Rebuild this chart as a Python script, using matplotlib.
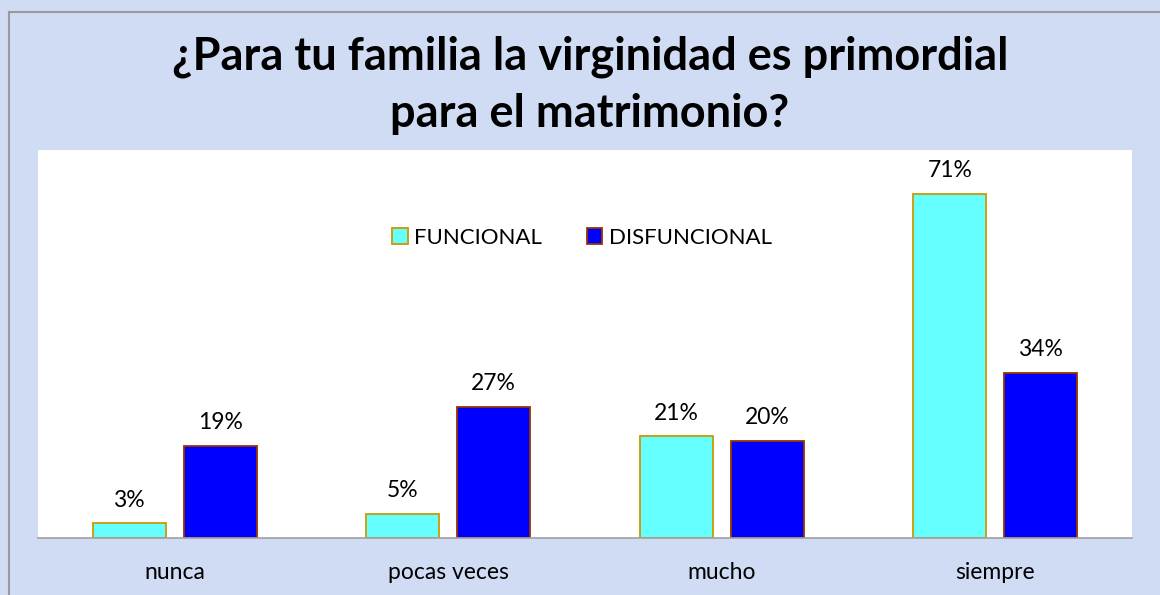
import matplotlib
matplotlib.use("Agg")
import matplotlib.pyplot as plt
import numpy as np

categories = ["nunca", "pocas veces", "mucho", "siempre"]
funcional = [3, 5, 21, 71]
disfuncional = [19, 27, 20, 34]
series_names = ["FUNCIONAL", "DISFUNCIONAL"]
title = "¿Para tu familia la virginidad es primordial\npara el matrimonio?"

plt.rcParams['font.family'] = ['Lato', 'DejaVu Sans']

W, H = 1160, 595
fig = plt.figure(figsize=(W / 100, H / 100), dpi=100)
fig.patch.set_facecolor("#CFDCF4")

# border line (top and left)
fig.add_artist(plt.Line2D([8.5 / W, 8.5 / W], [0, 1 - 11.5 / H], transform=fig.transFigure,
                          color="#9A9A9A", lw=1.5))
fig.add_artist(plt.Line2D([8.5 / W, 1], [1 - 11.5 / H, 1 - 11.5 / H], transform=fig.transFigure,
                          color="#9A9A9A", lw=1.5))

left, right, top, bottom = 38, 1132, 150, 538
ax = fig.add_axes([left / W, 1 - bottom / H, (right - left) / W, (bottom - top) / H])
ax.set_facecolor("white")

x = np.arange(len(categories))
bw = 0.267
gap = 0.066
off = (bw + gap) / 2
b1 = ax.bar(x - off, funcional, bw, color="#66FFFF", edgecolor="#CC9900", lw=1.3,
            label=series_names[0])
b2 = ax.bar(x + off, disfuncional, bw, color="#0000FF", edgecolor="#993300", lw=1.3,
            label=series_names[1])

for bars, vals in ((b1, funcional), (b2, disfuncional)):
    for b, v in zip(bars, vals):
        ax.text(b.get_x() + b.get_width() / 2, v + 2.6, f"{v}%", ha="center", va="bottom",
                fontsize=16.5, color="black")

ax.set_xlim(-0.5, len(categories) - 0.5)
ax.set_ylim(0, 80)
ax.set_yticks([])
ax.set_xticks(x)
ax.set_xticklabels(categories, fontsize=16.5)
ax.tick_params(axis="x", length=0, pad=17)
for s in ("top", "right", "left"):
    ax.spines[s].set_visible(False)
ax.spines["bottom"].set_color("#A0A0A0")
ax.spines["bottom"].set_linewidth(1.2)

leg = ax.legend(loc="center", bbox_to_anchor=((582 - left) / (right - left), (bottom - 238) / (bottom - top)),
                ncol=2, frameon=False, fontsize=16, handlelength=0.7, handleheight=0.7,
                handletextpad=0.3, columnspacing=2.0)

fig.text(590 / W, 1 - 85 / H, title, ha="center", va="center", fontsize=32.5, fontweight="bold",
         linespacing=1.45)

fig.savefig("out.png", dpi=100, facecolor=fig.get_facecolor())
